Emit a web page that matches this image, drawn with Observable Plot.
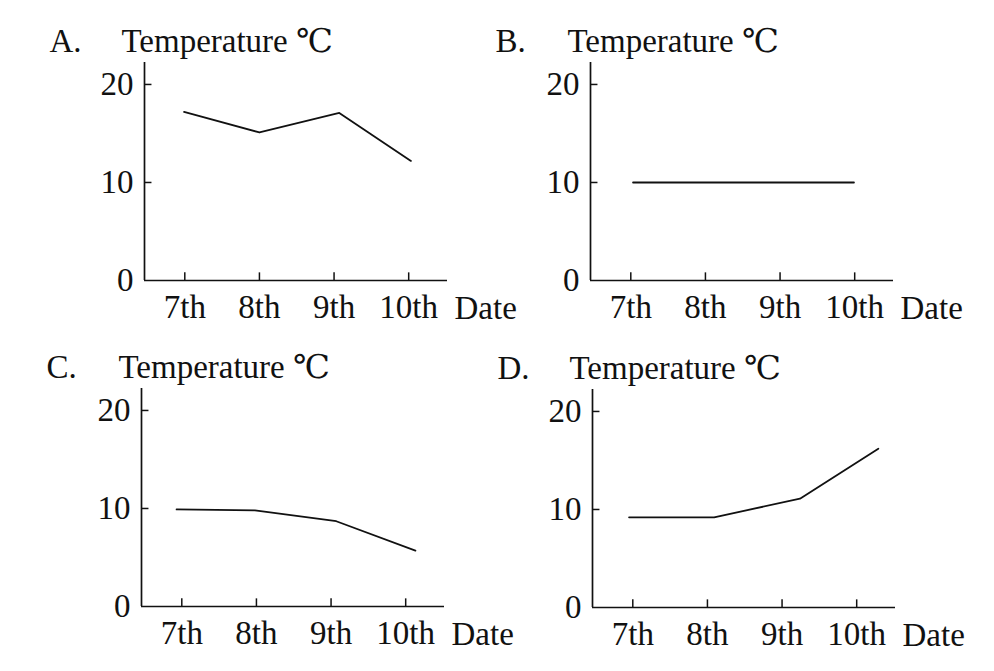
<!DOCTYPE html>
<html><head><meta charset="utf-8">
<script src="https://cdn.jsdelivr.net/npm/d3@7"></script>
<script src="https://cdn.jsdelivr.net/npm/@observablehq/plot@0.6"></script>
<style>
body{margin:0;background:#fff;}
#wrap{position:relative;width:994px;height:671px;overflow:hidden;background:#fff;}
.panel{position:absolute;}
</style></head><body><div id="wrap"></div>
<script>
// ---- data ----
const dayTicks = [7, 8, 9, 10];
const yTicks = [0, 10, 20];
const panelLetters = ["A.", "B.", "C.", "D."];
const axisTitle = "Temperature ℃";
const xAxisName = "Date";

const daysA = [6.99, 8.0, 9.07, 10.03];
const tempsA = [17.2, 15.1, 17.1, 12.2];
const daysB = [7.03, 8, 9, 9.99];
const tempsB = [10, 10, 10, 10];
const daysC = [6.93, 7.98, 9.07, 10.13];
const tempsC = [9.9, 9.8, 8.7, 5.7];
const daysD = [6.95, 8.09, 9.24, 10.29];
const tempsD = [9.2, 9.2, 11.1, 16.2];

// ---- layout ----
const xDomain = [6.46, 10.52];
const yDomain = [0, 22.24];
const ink = "#111";
const font = "'Liberation Serif','DejaVu Serif','Noto Sans CJK SC',serif";
const fs = 33;

function panel(days, temps, letter, left, top) {
  const data = days.map((d, i) => ({day: d, temp: temps[i]}));
  const chart = Plot.plot({
    width: 527, height: 335,
    marginLeft: 144, marginTop: 62, marginRight: 80, marginBottom: 55,
    x: {domain: xDomain},
    y: {domain: yDomain},
    style: {fontFamily: font, fontSize: fs + "px", color: ink, background: "transparent", overflow: "visible"},
    marks: [
      Plot.axisX({ticks: dayTicks, tickFormat: d => d + "th", tickSize: 0, tickPadding: 14.5, fontSize: fs, label: null}),
      Plot.axisY({ticks: yTicks, tickSize: 0, tickPadding: 11, fontSize: fs, label: null}),
      Plot.ruleY([0], {stroke: ink, strokeWidth: 1.7}),
      Plot.ruleX([xDomain[0]], {stroke: ink, strokeWidth: 1.7}),
      Plot.ruleX(dayTicks, {y1: 0, y2: 0.78, stroke: ink, strokeWidth: 1.5}),
      Plot.ruleY(yTicks.filter(t => t > 0), {x1: xDomain[0], x2: xDomain[0] + 0.1, stroke: ink, strokeWidth: 1.5}),
      Plot.line(data, {x: "day", y: "temp", stroke: ink, strokeWidth: 1.8}),
      Plot.text([letter], {text: d => d, frameAnchor: "top-left", dx: -95, dy: -10.5, textAnchor: "start", lineAnchor: "bottom", fontSize: fs, fill: ink}),
      Plot.text([axisTitle], {text: d => d, frameAnchor: "top-left", dx: -23, dy: -10.5, textAnchor: "start", lineAnchor: "bottom", fontSize: fs, fill: ink}),
      Plot.text([xAxisName], {text: d => d, frameAnchor: "bottom-right", dx: 7, dy: 38, textAnchor: "start", lineAnchor: "bottom", fontSize: fs, fill: ink})
    ]
  });
  const div = document.createElement("div");
  div.className = "panel";
  div.style.left = left + "px";
  div.style.top = top + "px";
  div.appendChild(chart);
  document.getElementById("wrap").appendChild(div);
}

panel(daysA, tempsA, panelLetters[0], 0, 0);
panel(daysB, tempsB, panelLetters[1], 446, 0);
panel(daysC, tempsC, panelLetters[2], -3, 326);
panel(daysD, tempsD, panelLetters[3], 448, 327);
</script></body></html>
